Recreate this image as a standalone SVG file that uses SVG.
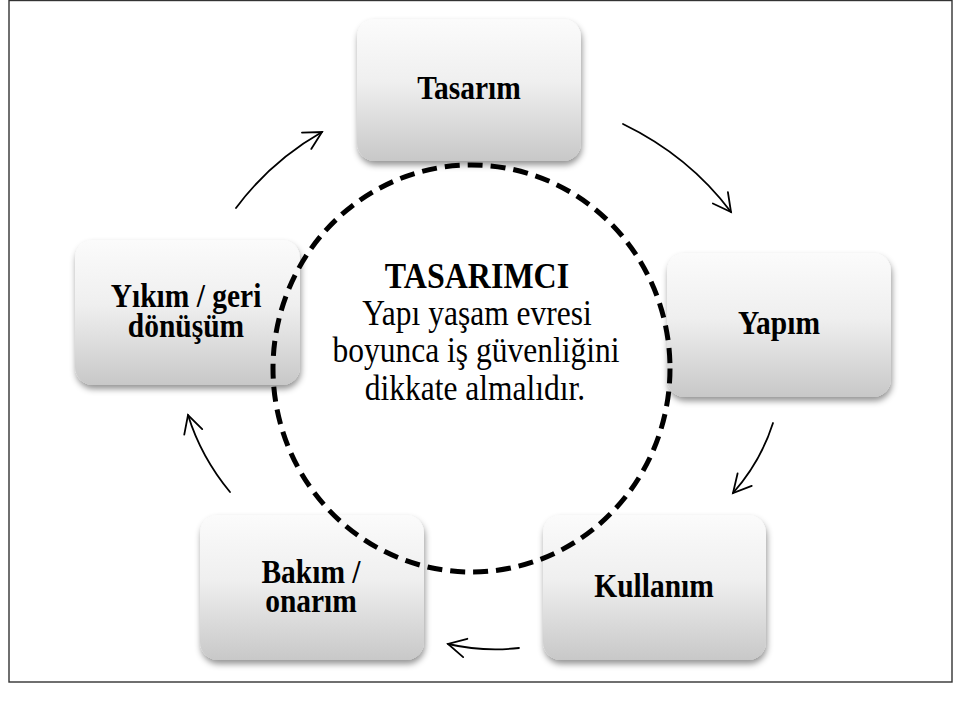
<svg xmlns="http://www.w3.org/2000/svg" width="962" height="711" viewBox="0 0 962 711">
  <defs>
    <linearGradient id="boxFill" x1="0" y1="0" x2="0" y2="1">
      <stop offset="0" stop-color="#fbfbfb"/>
      <stop offset="0.45" stop-color="#efefef"/>
      <stop offset="1" stop-color="#c8c8c8"/>
    </linearGradient>
    <filter id="shadow" x="-10%" y="-10%" width="125%" height="130%">
      <feDropShadow dx="1" dy="4" stdDeviation="3" flood-color="#000" flood-opacity="0.42"/>
    </filter>
    <marker id="head" markerUnits="userSpaceOnUse" markerWidth="30" markerHeight="30" viewBox="-22 -15 30 30" refX="0" refY="0" orient="auto">
      <path d="M-17.7,-9.4 L0,0 L-17.7,9.4" fill="none" stroke="#000" stroke-width="1.8" stroke-linecap="round" stroke-linejoin="miter"/>
    </marker>
    <style>
      .box { fill: url(#boxFill); filter: url(#shadow); }
      .lbl { font-family: "Liberation Serif", "Times New Roman", serif; font-weight: bold; font-size: 29.5px; fill: #000; text-anchor: middle; }
      .ctr { font-family: "Liberation Serif", "Times New Roman", serif; font-size: 31.5px; fill: #000; text-anchor: middle; }
      .ctr-b { font-weight: bold; font-size: 32px; }
      .conn { fill: none; stroke: #000; stroke-width: 1.8; stroke-linecap: round; marker-end: url(#head); }
    </style>
  </defs>

  <rect width="962" height="711" fill="#fff"/>
  <!-- frame -->
  <rect x="9" y="0.5" width="943" height="681.5" fill="none" stroke="#333" stroke-width="1.4"/>

  <!-- cycle stages (labels are set slightly tall: scale 1 x 1.15) -->
  <g id="tasarim">
    <rect class="box" x="357" y="19" width="224" height="142" rx="18"/>
    <text class="lbl" transform="translate(469 99) scale(1 1.15)">Tasarım</text>
  </g>
  <g id="yapim">
    <rect class="box" x="667" y="253" width="224" height="144" rx="18"/>
    <text class="lbl" transform="translate(779 334) scale(1 1.15)">Yapım</text>
  </g>
  <g id="kullanim">
    <rect class="box" x="543" y="515" width="223" height="145" rx="18"/>
    <text class="lbl" transform="translate(654 597) scale(1 1.15)">Kullanım</text>
  </g>
  <g id="bakim">
    <rect class="box" x="200" y="515" width="224" height="145" rx="18"/>
    <text class="lbl" transform="translate(311 583) scale(1 1.15)">Bakım /</text>
    <text class="lbl" transform="translate(311 612) scale(1 1.15)">onarım</text>
  </g>
  <g id="yikim">
    <rect class="box" x="75" y="240" width="225" height="145" rx="18"/>
    <text class="lbl" transform="translate(186 307) scale(1 1.15)">Yıkım / geri</text>
    <text class="lbl" transform="translate(186 337) scale(1 1.15)">dönüşüm</text>
  </g>

  <!-- central designer circle -->
  <g id="tasarimci">
    <ellipse cx="471.5" cy="368.5" rx="198.5" ry="203.5" fill="none" stroke="#000" stroke-width="5" stroke-dasharray="15 8"/>
    <text class="ctr ctr-b" transform="translate(477 288) scale(1 1.12)">TASARIMCI</text>
    <text class="ctr" transform="translate(477 325) scale(1 1.12)">Yapı yaşam evresi</text>
    <text class="ctr" transform="translate(476 362) scale(1 1.12)">boyunca iş güvenliğini</text>
    <text class="ctr" transform="translate(475 400) scale(1 1.12)">dikkate almalıdır.</text>
  </g>

  <!-- cycle arrows -->
  <g id="connectors">
    <path class="conn" d="M623,124 Q689,156 731,212"/>
    <path class="conn" d="M773,423 Q761,461 733,493"/>
    <path class="conn" d="M519,648 Q483,652 448,644"/>
    <path class="conn" d="M230,492 Q201,457 188,415"/>
    <path class="conn" d="M236,208 Q271,161 322,132"/>
  </g>
</svg>
